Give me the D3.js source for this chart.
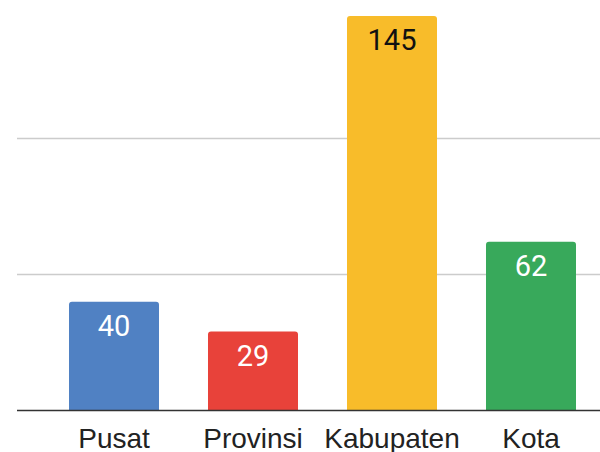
<!DOCTYPE html>
<html><head><meta charset="utf-8">
<script src="https://cdn.jsdelivr.net/npm/d3@7"></script>
<style>body{margin:0;background:#fff}svg{display:block}</style>
</head><body>
<script>
const categories = ["Pusat", "Provinsi", "Kabupaten", "Kota"];
const values = [40, 29, 145, 62];
const colors = ["#5081c3", "#e8423a", "#f8bc2a", "#38a95b"];
const labelColors = ["#ffffff", "#ffffff", "#111111", "#ffffff"];
const gridTicks = [50, 100];

const W = 600, H = 452;
const svg = d3.select("body").append("svg").attr("width", W).attr("height", H);

const x = d3.scaleBand().domain(categories).range([44.5, 600.5]).paddingInner(0.3525).paddingOuter(0.17625);
const y = d3.scaleLinear().domain([0, 150]).range([410.5, 2.5]);

svg.append("g").selectAll("line").data(gridTicks).join("line")
  .attr("x1", 17).attr("x2", 600)
  .attr("y1", d => y(d)).attr("y2", d => y(d))
  .attr("stroke", "#cccccc").attr("stroke-width", 1.5);

function topRounded(x0, y0, w, h, r) {
  return `M${x0},${y0 + h}V${y0 + r}Q${x0},${y0} ${x0 + r},${y0}H${x0 + w - r}Q${x0 + w},${y0} ${x0 + w},${y0 + r}V${y0 + h}Z`;
}

svg.append("g").selectAll("path").data(categories).join("path")
  .attr("d", (c, i) => topRounded(x(c), y(values[i]), x.bandwidth(), y(0) - y(values[i]), 3))
  .attr("fill", (c, i) => colors[i]);

svg.append("g").selectAll("text").data(categories).join("text")
  .attr("x", c => x(c) + x.bandwidth() / 2)
  .attr("y", (c, i) => y(values[i]) + 34)
  .attr("text-anchor", "middle")
  .attr("font-family", "Roboto, sans-serif")
  .attr("font-size", 29)
  .attr("fill", (c, i) => labelColors[i])
  .text((c, i) => values[i]);

svg.append("line").attr("x1", 17).attr("x2", 600).attr("y1", y(0)).attr("y2", y(0))
  .attr("stroke", "#333333").attr("stroke-width", 1.6);

const xAxis = d3.axisBottom(x).tickSize(0).tickPadding(0);
const gx = svg.append("g").attr("transform", `translate(0,${y(0)})`).call(xAxis);
gx.select(".domain").remove();
gx.selectAll("text")
  .attr("dy", null).attr("y", 37)
  .attr("font-family", "'Liberation Sans', Arial, sans-serif")
  .attr("font-size", 28).attr("fill", "#222222");
</script>
</body></html>
